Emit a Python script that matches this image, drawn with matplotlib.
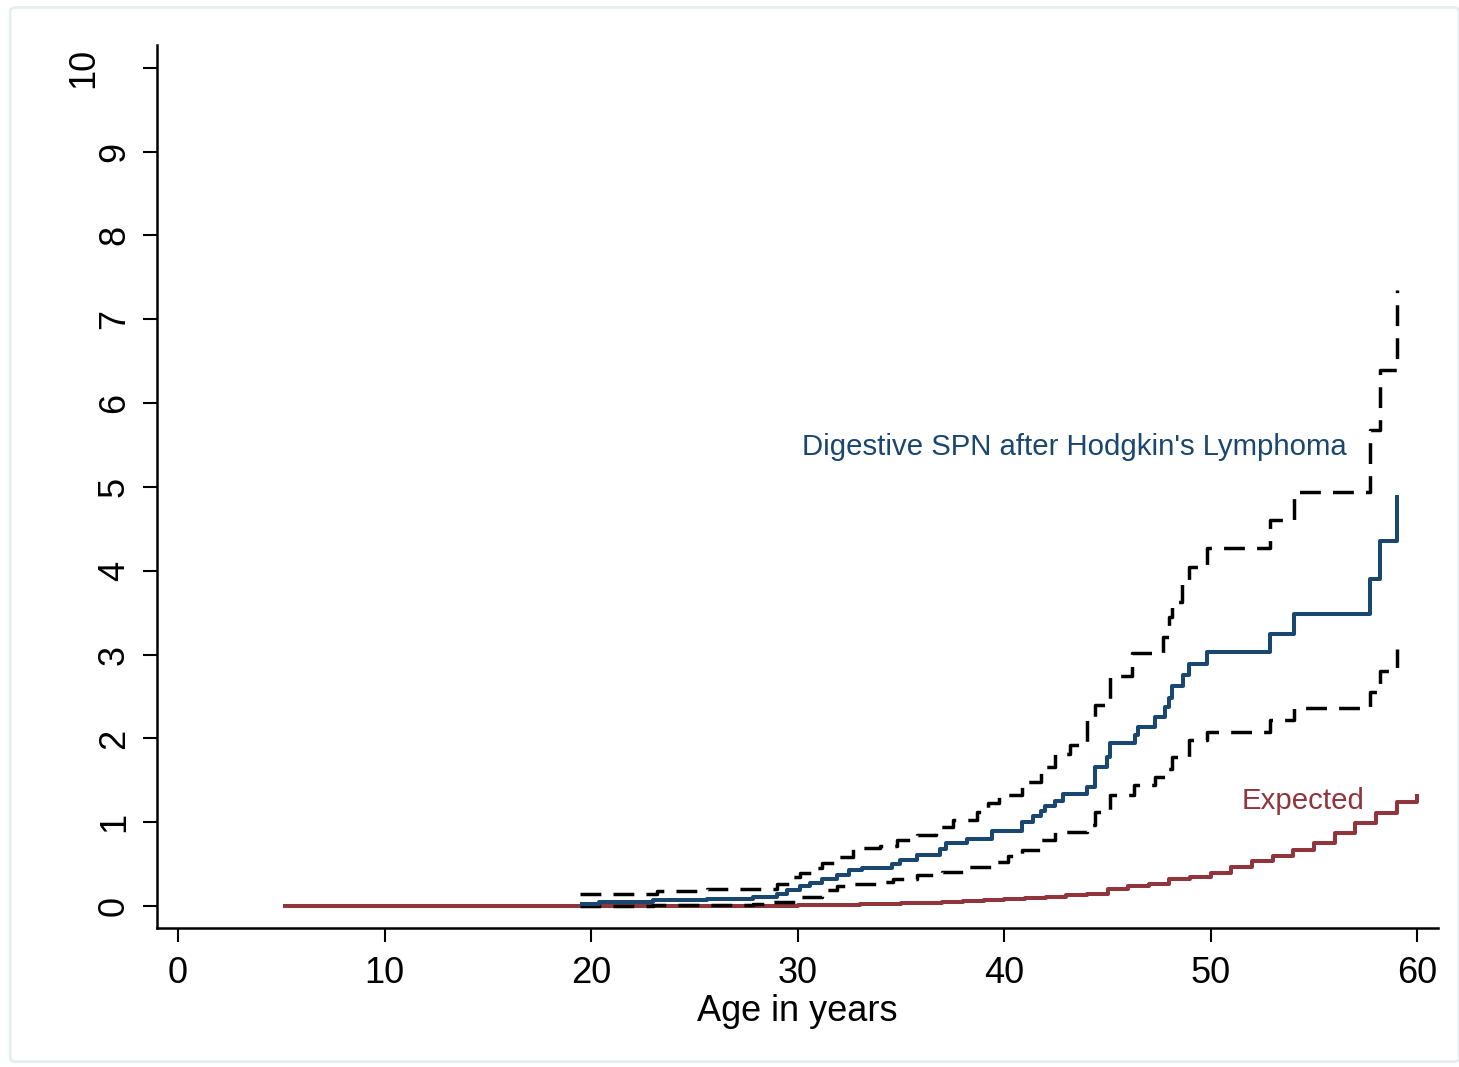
import matplotlib
matplotlib.use("Agg")
import matplotlib.pyplot as plt
from matplotlib.patches import FancyBboxPatch
from matplotlib.transforms import ScaledTranslation

plt.rcParams['font.family'] = ['Liberation Sans', 'DejaVu Sans']

# observed cumulative incidence (%), step function
obs_age = [19.47, 20.4, 23.0, 25.6, 27.85, 29.0, 29.5, 30.1, 30.6, 31.2, 31.9, 32.5, 33.1,
           34.55, 34.96, 35.8, 36.9, 37.2, 38.2, 39.4, 40.86, 41.4, 41.8, 41.98, 42.47, 42.86,
           44.02, 44.4, 44.97, 45.13, 46.34, 46.5, 47.3, 47.8, 47.96, 48.12, 48.65, 48.96,
           49.8, 52.88, 54.04, 57.72, 58.2, 59.03]
obs_val = [0.03, 0.05, 0.07, 0.09, 0.11, 0.15, 0.19, 0.24, 0.28, 0.32, 0.37, 0.43, 0.46,
           0.50, 0.55, 0.61, 0.68, 0.755, 0.80, 0.90, 1.005, 1.07, 1.13, 1.19, 1.26, 1.34,
           1.42, 1.66, 1.78, 1.94, 2.04, 2.14, 2.26, 2.38, 2.48, 2.62, 2.76, 2.89,
           3.03, 3.25, 3.48, 3.90, 4.35, 4.90]

# upper confidence limit
up_age = [19.47, 23.2, 25.6, 29.0, 29.6, 30.1, 30.75, 31.2, 31.9, 32.7, 34.0, 34.8, 35.8,
          36.7, 37.5, 38.7, 39.2, 39.75, 40.86, 41.8, 42.47, 43.2, 44.0, 44.4, 45.1, 46.2,
          47.7, 47.96, 48.1, 48.6, 48.96, 49.8, 52.88, 54.04, 57.72, 58.2, 59.03]
up_val = [0.14, 0.18, 0.21, 0.27, 0.35, 0.40, 0.45, 0.51, 0.59, 0.69, 0.72, 0.79, 0.85,
          0.95, 1.03, 1.12, 1.23, 1.32, 1.48, 1.66, 1.82, 1.92, 2.22, 2.40, 2.74, 3.02,
          3.21, 3.45, 3.63, 3.87, 4.05, 4.27, 4.60, 4.94, 5.68, 6.40, 7.35]

# lower confidence limit
lo_age = [19.47, 23.0, 27.85, 28.8, 30.1, 31.2, 31.9, 32.7, 34.0, 34.6, 35.8, 37.0, 38.2,
          39.5, 40.2, 40.86, 41.8, 42.47, 44.0, 44.4, 45.1, 46.3, 47.3, 47.8, 48.1, 48.96,
          49.8, 52.88, 54.04, 57.72, 58.2, 59.03]
lo_val = [0.0, 0.01, 0.02, 0.05, 0.11, 0.19, 0.24, 0.27, 0.29, 0.32, 0.37, 0.41, 0.47,
          0.53, 0.60, 0.67, 0.79, 0.89, 0.97, 1.12, 1.32, 1.44, 1.54, 1.64, 1.78, 1.98,
          2.08, 2.22, 2.36, 2.56, 2.80, 3.07]

# expected
exp_age = [5.1, 25, 28, 30, 31, 32, 33, 34, 35, 36, 37, 38, 39, 40, 41, 42, 43, 44, 45, 46,
           47, 48, 49, 50, 51, 52, 53, 54, 55, 56, 57, 58, 59, 60]
exp_val = [0.0, 0.003, 0.006, 0.01, 0.013, 0.017, 0.022, 0.027, 0.033, 0.04, 0.05, 0.06,
           0.075, 0.09, 0.10, 0.115, 0.13, 0.15, 0.21, 0.24, 0.27, 0.32, 0.35, 0.39, 0.47,
           0.54, 0.60, 0.67, 0.75, 0.87, 0.99, 1.11, 1.24, 1.34]

blue = '#1a476f'
red = '#90353b'

fig = plt.figure(figsize=(14.59, 10.67), dpi=100)
ax = fig.add_axes([0.1076, 0.1303, 0.878, 0.8275])

ax.plot(exp_age, exp_val, drawstyle='steps-post', color=red, lw=2.9, solid_capstyle='butt')
ax.plot(up_age, up_val, drawstyle='steps-post', color='black', lw=2.5, dashes=(6, 3.5))
ax.plot(lo_age, lo_val, drawstyle='steps-post', color='black', lw=2.5, dashes=(6, 3.5))
ax.plot(obs_age, obs_val, drawstyle='steps-post', color=blue, lw=2.9, solid_capstyle='butt')

ax.text(30.2, 5.48, "Digestive SPN after Hodgkin's Lymphoma", color=blue,
        fontsize=21.2, ha='left', va='center')
ax.text(51.5, 1.25, "Expected", color=red, fontsize=21.2, ha='left', va='center')

ax.set_xlim(-1.02, 61.0)
ax.set_ylim(-0.26, 10.27)
ax.set_xticks(range(0, 61, 10))
ax.set_yticks(range(0, 11))
ax.set_xlabel('Age in years', fontsize=26, labelpad=2)
ax.tick_params(axis='both', labelsize=26, length=10, width=1.5, direction='out')
ax.tick_params(axis='x', pad=10)
ax.tick_params(axis='y', pad=8)
for lab in ax.get_yticklabels():
    lab.set_rotation(90)
    lab.set_va('center')
# the two-digit label sits further left, as in the original
ylabs = ax.get_yticklabels()
ylabs[-1].set_transform(ylabs[-1].get_transform() + ScaledTranslation(-0.31, 0, fig.dpi_scale_trans))
for s in ['top', 'right']:
    ax.spines[s].set_visible(False)
for s in ['left', 'bottom']:
    ax.spines[s].set_linewidth(1.8)

frame = FancyBboxPatch((0.007, 0.005), 0.993, 0.988, boxstyle='round,pad=0,rounding_size=0.004',
                       transform=fig.transFigure, fill=False, edgecolor='#e6eef0', lw=2)
fig.patches.append(frame)

fig.savefig('out.png', dpi=100)
